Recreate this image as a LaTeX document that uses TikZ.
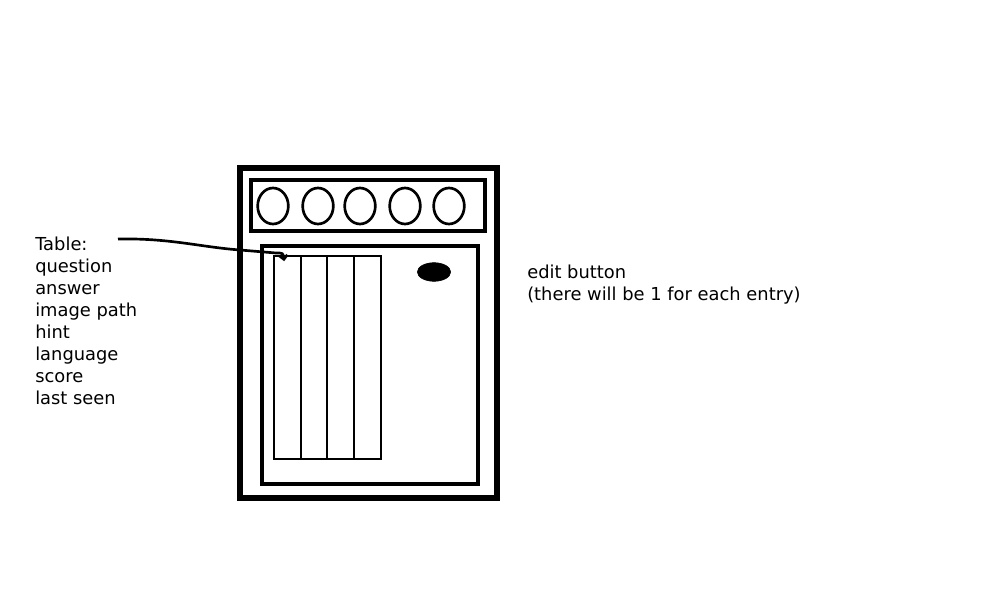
\documentclass[tikz,border=0pt]{standalone}
\usepackage{fontspec}
\setmainfont{DejaVu Sans}
\usetikzlibrary{positioning,arrows.meta,calc,shapes.geometric}

\begin{document}
\begin{tikzpicture}[
    x=0.75pt,y=-0.75pt,
    lbl/.style={font=\fontsize{13.4}{16.5}\selectfont,align=left,inner sep=0pt,anchor=north west},
    frame/.style={draw,line width=4.5pt},
    panel/.style={draw,line width=3pt},
    slot/.style={draw,line width=2pt,ellipse,minimum width=23pt,minimum height=27pt,inner sep=0pt},
    col/.style={draw,line width=1.5pt,minimum width=20pt,minimum height=152pt,inner sep=0pt},
    wire/.style={line width=2pt,-{Straight Barb[length=3pt,width=6pt]}}
  ]
    \useasboundingbox (0,0) rectangle (1008,610);

    % outer window and the two panels
    \node[frame,minimum width=193pt,minimum height=247.5pt,inner sep=0pt] (win) at (368.5,333) {};
    \node[panel,minimum width=175.5pt,minimum height=38pt,inner sep=0pt] (topbar) at (368,205.5) {};
    \node[panel,minimum width=162pt,minimum height=178.5pt,inner sep=0pt] (body) at (370,365) {};

    % buttons in the top bar
    \foreach \i/\xx in {1/273,2/318,3/360,4/405,5/449}
      \node[slot] (btn\i) at (\xx,206) {};

    % table columns
    \foreach \i/\xx in {1/287.5,2/314,3/340.5,4/367.5}
      \node[col] (col\i) at (\xx,357.5) {};

    % edit button
    \node[draw,fill=black,ellipse,minimum width=25pt,minimum height=14pt,inner sep=0pt] (edit) at (434,272) {};

    % labels
    \node[lbl] (tablelbl) at (35,237) {Table:\\question\\answer\\image path\\hint\\language\\score\\last seen};
    \node[lbl] (editlbl) at (527,265) {edit button\\(there will be 1 for each entry)};

    \coordinate (wirestart) at ($(tablelbl.north west)+(83,2)$);
    \coordinate (wireend) at ($(col1.north west)+(11,6)$);
    \draw[wire] (wirestart) .. controls (170,238) and (200,247) .. (240,250)
      -- (276,253) .. controls (283,253) .. (wireend);
\end{tikzpicture}
\end{document}
